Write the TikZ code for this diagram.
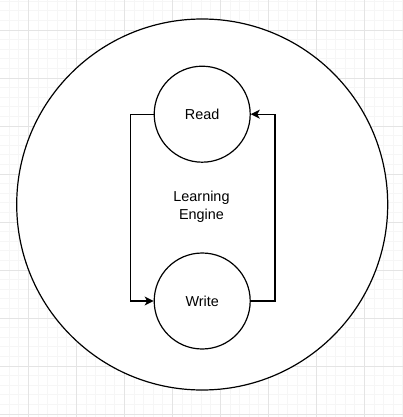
\documentclass[tikz,border=0pt]{standalone}
\usepackage{fontspec}
\setmainfont{Liberation Sans}
\usetikzlibrary{arrows.meta}
\definecolor{gridminor}{HTML}{F6F6F6}
\definecolor{gridmajor}{HTML}{E4E4E4}
\tikzset{
  statecircle/.style={circle,draw=black,line width=1.2pt,minimum size=96pt,inner sep=0pt,fill=white,font=\fontsize{14.4pt}{18pt}\selectfont},
  bigcircle/.style={circle,draw=black,line width=1.2pt,minimum size=371pt,inner sep=0pt,fill=white},
  flow/.style={draw=black,line width=1.2pt,line join=miter,-{Stealth[length=9pt,width=9pt,inset=2.5pt]}},
  label/.style={align=center,inner sep=0pt,font=\fontsize{14.4pt}{18pt}\selectfont}
}
\begin{document}
\begin{tikzpicture}[x=1pt,y=-1pt]
\useasboundingbox (0,0) rectangle (403,417);
\fill[white] (0,0) rectangle (403,417);
\foreach \k in {-3,...,39} {
  \draw[gridminor,line width=0.8pt] ({28.3+9.6*\k},0) -- ({28.3+9.6*\k},417);
  \draw[gridminor,line width=0.8pt] (0,{30+9.6*\k}) -- (403,{30+9.6*\k});
}
\foreach \k in {-1,...,8} {
  \draw[gridmajor,line width=0.8pt] ({28.3+48*\k},0) -- ({28.3+48*\k},417);
  \draw[gridmajor,line width=0.8pt] (0,{30+48*\k}) -- (403,{30+48*\k});
}
\node[bigcircle] (engine) at (202.2,204.5) {};
\node[statecircle] (read) at (202.2,114.2) {Read};
\node[statecircle] (write) at (202.2,301) {Write};
\node[label] (title) at (201.5,206.5) {Learning\\Engine};
\draw[flow] (read.west) -- ++(-23.2,0) |- (write.west);
\draw[flow] (write.east) -- ++(24.2,0) |- (read.east);
\end{tikzpicture}
\end{document}
